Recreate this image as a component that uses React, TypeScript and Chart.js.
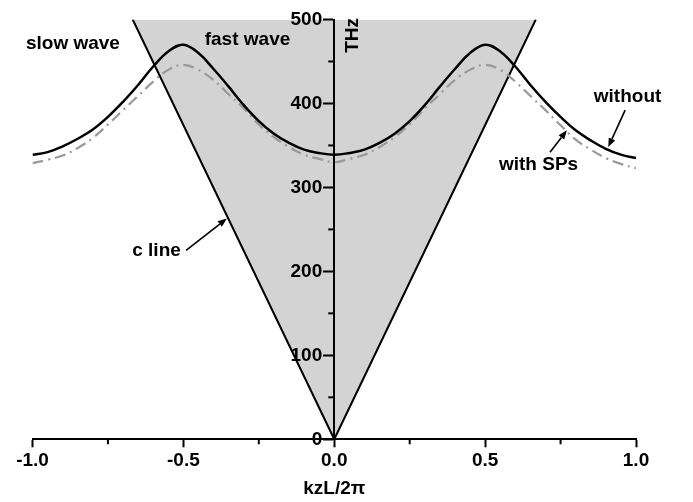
import React, { useEffect, useRef } from "react";
import { Chart, registerables } from "chart.js";

Chart.register(...registerables);

// wave number kzL/2π
const kValues = [
  -1.0, -0.95, -0.9, -0.85, -0.8, -0.75, -0.7, -0.65, -0.6, -0.55, -0.5, -0.45, -0.4, -0.35, -0.3, -0.25, -0.2, -0.15, -0.1, -0.05,
  0,
  0.05, 0.1, 0.15, 0.2, 0.25, 0.3, 0.35, 0.4, 0.45, 0.5, 0.55, 0.6, 0.65, 0.7, 0.75, 0.8, 0.85, 0.9, 0.95, 1.0,
];
// frequency (THz) without surface plasmons
const withoutValues = [
  339, 342, 349, 358, 369, 384, 402, 422, 444, 462, 470, 460, 441, 420, 398, 379, 364, 353, 345, 341,
  339,
  341, 345, 353, 364, 379, 398, 420, 441, 460, 470, 462, 444, 422, 402, 384, 368, 356, 346, 339, 335,
];
// frequency (THz) with SPs
const withSPValues = [
  329, 333, 338, 347, 359, 375, 392, 409, 426, 440, 446, 440, 428, 411, 394, 375, 360, 348, 339, 334,
  330,
  334, 339, 348, 360, 375, 394, 411, 428, 440, 446, 440, 426, 409, 392, 374, 357, 345, 335, 328, 323,
];
// light line
const lightK = [-0.668, 0, 0.668];
const lightF = [500, 0, 500];

const xMajorTicks = [-1.0, -0.5, 0.0, 0.5, 1.0];
const xMinorTicks = [-0.75, -0.25, 0.25, 0.75];
const yMinorTicks = [50, 150, 250, 350, 450];

const textLabels = [
  { text: "slow wave", x: -0.866, y: 471 },
  { text: "fast wave", x: -0.2875, y: 476 },
  { text: "without", x: 0.972, y: 408 },
  { text: "with SPs", x: 0.677, y: 327 },
  { text: "c line", x: -0.589, y: 225 },
];
const arrows = [
  { x1: -0.491, y1: 225, x2: -0.356, y2: 263 },
  { x1: 0.964, y1: 392, x2: 0.908, y2: 348 },
  { x1: 0.715, y1: 342, x2: 0.771, y2: 368 },
];
const yTitle = { text: "THz", x: 0.062, y: 481 };

const FONT_FAMILY = "'Liberation Sans', Arial, Helvetica, sans-serif";

const overlayPlugin = {
  id: "overlay",
  afterDraw(chart: any) {
    const ctx = chart.ctx;
    const xs = chart.scales.x;
    const ys = chart.scales.y;
    const area = chart.chartArea;
    ctx.save();
    ctx.strokeStyle = "#000";
    ctx.fillStyle = "#000";
    ctx.lineWidth = 2;
    // minor ticks
    xMinorTicks.forEach((v) => {
      const px = xs.getPixelForValue(v);
      ctx.beginPath();
      ctx.moveTo(px, area.bottom);
      ctx.lineTo(px, area.bottom + 5);
      ctx.stroke();
    });
    const x0 = xs.getPixelForValue(0);
    yMinorTicks.forEach((v) => {
      const py = ys.getPixelForValue(v);
      ctx.beginPath();
      ctx.moveTo(x0, py);
      ctx.lineTo(x0 - 6, py);
      ctx.stroke();
    });
    ctx.font = `bold 19px ${FONT_FAMILY}`;
    // y tick labels, from the scale's own ticks, left of the centred axis
    ctx.textAlign = "right";
    ctx.textBaseline = "middle";
    ys.ticks.forEach((t: any) => {
      ctx.fillText(String(t.value), x0 - 12, ys.getPixelForValue(t.value));
    });
    // text annotations
    ctx.textAlign = "center";
    textLabels.forEach((t) => {
      ctx.fillText(t.text, xs.getPixelForValue(t.x), ys.getPixelForValue(t.y));
    });
    // rotated axis title
    ctx.save();
    ctx.translate(xs.getPixelForValue(yTitle.x), ys.getPixelForValue(yTitle.y));
    ctx.rotate(-Math.PI / 2);
    ctx.fillText(yTitle.text, 0, 0);
    ctx.restore();
    // arrows
    ctx.lineWidth = 1.6;
    arrows.forEach((a) => {
      const sx = xs.getPixelForValue(a.x1);
      const sy = ys.getPixelForValue(a.y1);
      const ex = xs.getPixelForValue(a.x2);
      const ey = ys.getPixelForValue(a.y2);
      const ang = Math.atan2(ey - sy, ex - sx);
      const hl = 9;
      const hw = 3.5;
      const bx = ex - hl * Math.cos(ang);
      const by = ey - hl * Math.sin(ang);
      ctx.beginPath();
      ctx.moveTo(sx, sy);
      ctx.lineTo(bx, by);
      ctx.stroke();
      ctx.beginPath();
      ctx.moveTo(ex, ey);
      ctx.lineTo(bx + hw * Math.sin(ang), by - hw * Math.cos(ang));
      ctx.lineTo(bx - hw * Math.sin(ang), by + hw * Math.cos(ang));
      ctx.closePath();
      ctx.fill();
    });
    ctx.restore();
  },
};

export default function App() {
  const canvasRef = useRef<HTMLCanvasElement | null>(null);

  useEffect(() => {
    if (!canvasRef.current) return;
    const font = { family: FONT_FAMILY, size: 19, weight: "bold" as const };
    const chart = new Chart(canvasRef.current, {
      type: "line",
      data: {
        datasets: [
          {
            label: "without",
            data: kValues.map((k, i) => ({ x: k, y: withoutValues[i] })),
            borderColor: "#000",
            borderWidth: 2.5,
            pointRadius: 0,
            tension: 0.4,
            fill: false,
          },
          {
            label: "with SPs",
            data: kValues.map((k, i) => ({ x: k, y: withSPValues[i] })),
            borderColor: "#999999",
            borderWidth: 2.2,
            borderDash: [11, 5, 2, 5],
            pointRadius: 0,
            tension: 0.4,
            fill: false,
          },
          {
            label: "c line",
            data: lightK.map((k, i) => ({ x: k, y: lightF[i] })),
            borderColor: "#000",
            borderWidth: 2,
            pointRadius: 0,
            tension: 0,
            fill: "end",
            backgroundColor: "#d3d3d3",
          },
        ],
      },
      options: {
        responsive: false,
        animation: false,
        layout: { padding: { left: 32.5, right: 57, top: 19.5, bottom: 0 } },
        plugins: { legend: { display: false }, tooltip: { enabled: false } },
        scales: {
          x: {
            type: "linear",
            position: "bottom",
            min: -1,
            max: 1,
            afterBuildTicks: (s: any) => {
              s.ticks = xMajorTicks.map((v) => ({ value: v }));
            },
            afterFit: (s: any) => {
              s.height = 62.7;
            },
            ticks: {
              color: "#000",
              font,
              padding: 2,
              maxRotation: 0,
              autoSkip: false,
              z: 1,
              callback: (v: any) => Number(v).toFixed(1),
            },
            grid: { drawOnChartArea: false, tickLength: 8, tickWidth: 2, tickColor: "#000", z: 1 },
            border: { color: "#000", width: 2, z: 1 },
            title: {
              display: true,
              text: "kzL/2\u03c0",
              color: "#000",
              font,
              padding: { top: 0, bottom: 1.6 },
            },
          },
          y: {
            type: "linear",
            position: { x: 0 },
            min: 0,
            max: 500,
            ticks: { stepSize: 100, display: false },
            grid: { drawOnChartArea: false, tickLength: 10, tickWidth: 2, tickColor: "#000", z: 1 },
            border: { color: "#000", width: 2, z: 1 },
          },
        },
      },
      plugins: [overlayPlugin],
    });
    return () => chart.destroy();
  }, []);

  return (
    <div style={{ position: "fixed", left: 0, top: 0, width: 693, height: 502, background: "#fff" }}>
      <canvas ref={canvasRef} width={693} height={502} style={{ width: 693, height: 502, display: "block" }} />
    </div>
  );
}
